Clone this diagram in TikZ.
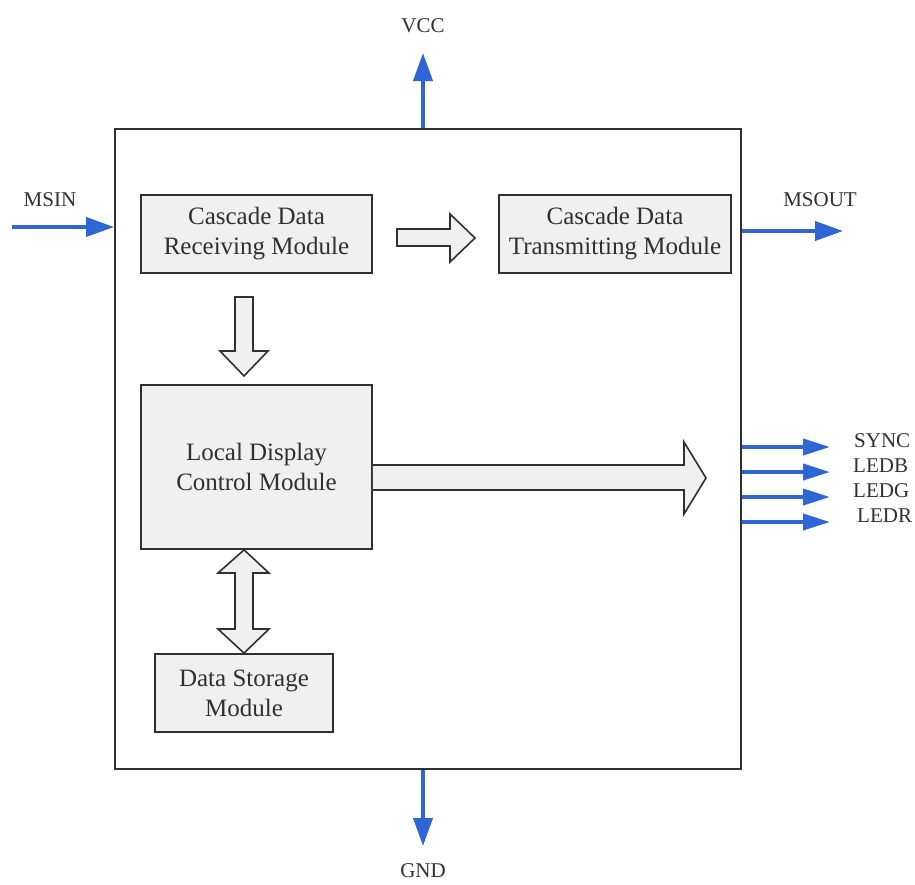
\documentclass[tikz,border=0pt]{standalone}
\usepackage{fontspec}
\setmainfont{Liberation Serif}
\newfontfamily\lserif{Liberation Serif}
\usetikzlibrary{arrows.meta,calc}
\definecolor{sigblue}{HTML}{2F66D6}
\definecolor{boxgray}{HTML}{F0F0F0}
\definecolor{linegray}{HTML}{303030}
\begin{document}
\begin{tikzpicture}[x=1pt,y=-1pt,
  modbox/.style={draw=linegray,line width=1.8pt,fill=boxgray,align=center,
    font=\lserif\fontsize{25}{30}\selectfont,text=linegray,inner sep=0pt},
  hollow/.style={draw=linegray,line width=1.6pt,fill=boxgray,line join=miter},
  sig/.style={draw=sigblue,line width=3.8pt,-{Triangle[length=28pt,width=19pt]}},
  siglabel/.style={font=\lserif\fontsize{21}{24}\selectfont,text=linegray,inner sep=0pt}]
\useasboundingbox (0,0) rectangle (915,884);
\fill[white] (0,0) rectangle (915,884);
% outer chip
\node[draw=linegray,line width=2pt,minimum width=626pt,minimum height=640pt,inner sep=0pt] (chip) at (428,449) {};
% modules
\node[modbox,minimum width=231pt,minimum height=78pt] (rx) at (256.5,234) {Cascade Data\\Receiving Module};
\node[modbox,minimum width=232pt,minimum height=78pt] (tx) at (615,234) {Cascade Data\\Transmitting Module};
\node[modbox,minimum width=231pt,minimum height=164pt] (ldc) at (256.5,467) {Local Display\\Control Module};
\node[modbox,minimum width=178pt,minimum height=78pt] (ds) at (244,693) {Data Storage\\Module};
% hollow arrow rx -> tx
\draw[hollow] (397,229) -- (450,229) -- (450,214) -- (475,238) -- (450,262) -- (450,246) -- (397,246) -- cycle;
% hollow arrow rx -> ldc
\draw[hollow] (235,297) -- (253,297) -- (253,351) -- (268,351) -- (244,376) -- (220,351) -- (235,351) -- cycle;
% big hollow arrow ldc -> outputs
\draw[hollow] (ldc.east |- 0,465) -- (684,465) -- (684,442) -- (706,478) -- (684,514) -- (684,490) -- (ldc.east |- 0,490);
% double hollow arrow ldc <-> ds
\draw[hollow] (ldc.south -| ds.north) -- (269,573) -- (253,573) -- (253,629) -- (269,629) -- (ds.north) -- (218,629) -- (235,629) -- (235,573) -- (218,573) -- cycle;
% external signals
\coordinate (msin) at (12,227);
\coordinate (vcc) at (423,53);
\coordinate (gnd) at (423,846);
\coordinate (msout) at (843,231);
\draw[sig] (msin) -- (chip.west |- msin);
\draw[sig] (chip.north -| vcc) -- (vcc);
\draw[sig] (chip.south -| gnd) -- (gnd);
\draw[sig] (chip.east |- msout) -- (msout);
\node[siglabel] (lmsin) at (50,200) {MSIN};
\node[siglabel] (lvcc) at (423,26) {VCC};
\node[siglabel] (lgnd) at (423,871) {GND};
\node[siglabel] (lmsout) at (820,200) {MSOUT};
\foreach \nm/\yy in {SYNC/447,LEDB/472,LEDG/497,LEDR/522}{
  \coordinate (e\nm) at (830,\yy);
  \draw[sig,-{Triangle[length=27pt,width=16pt]}] (chip.east |- e\nm) -- (e\nm);
}
\node[siglabel,anchor=west] (lsync) at (854,441) {SYNC};
\node[siglabel,anchor=west] (lledb) at (853,466) {LEDB};
\node[siglabel,anchor=west] (lledg) at (853,491) {LEDG};
\node[siglabel,anchor=west] (lledr) at (857,516) {LEDR};
\end{tikzpicture}
\end{document}
